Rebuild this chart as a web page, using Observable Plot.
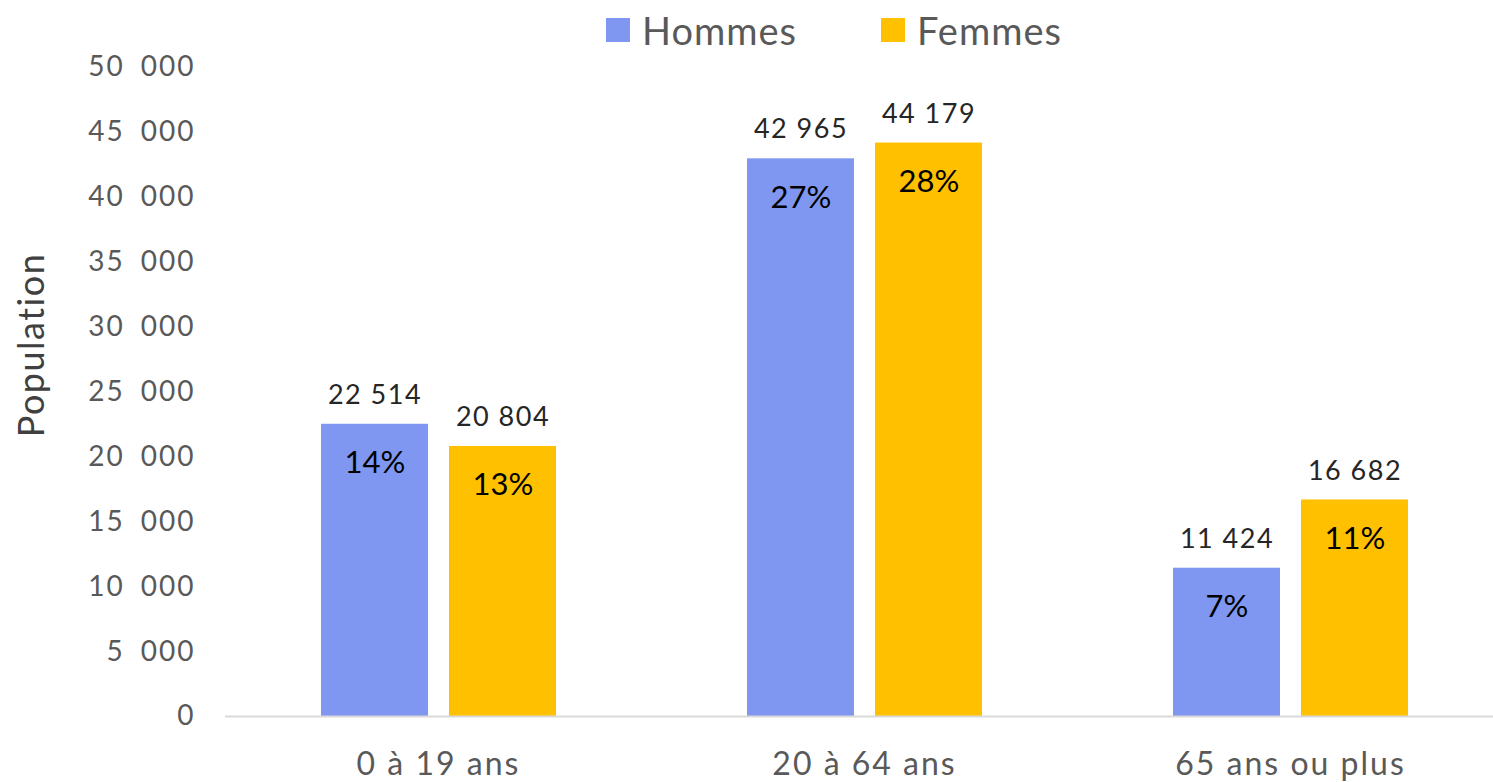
<!DOCTYPE html>
<html><head><meta charset="utf-8">
<script src="https://cdn.jsdelivr.net/npm/d3@7"></script>
<script src="https://cdn.jsdelivr.net/npm/@observablehq/plot@0.6"></script>
<style>
html,body{margin:0;padding:0;background:#fff;overflow:hidden;}
#wrap{position:relative;width:1493px;height:782px;overflow:hidden;font-family:Lato,"Open Sans",sans-serif;}
#legend{position:absolute;top:8px;left:606px;height:44px;display:flex;align-items:center;font-size:38px;color:#595959;letter-spacing:1px;}
#legend span.item{display:flex;align-items:center;}
#legend span.item + span.item{margin-left:84px;}
#legend span.sw{display:inline-block;width:24px;height:24px;margin-right:12px;}
#chart{position:absolute;top:0;left:0;}
#chart svg{max-width:none !important;}
#chart .ytick text{letter-spacing:2px;}
#chart .fxtick text{letter-spacing:2px;}
#chart .vlab text{letter-spacing:1.5px;}
#chart .ylab text{letter-spacing:1.5px;}
</style></head>
<body><div id="wrap"><div id="chart"></div><div id="legend"></div></div>
<script>
const categories = ["0 à 19 ans", "20 à 64 ans", "65 ans ou plus"];
const series = ["Hommes", "Femmes"];
const hommes = [22514, 42965, 11424];
const femmes = [20804, 44179, 16682];
const pctHommes = [14, 27, 7];
const pctFemmes = [13, 28, 11];
const yTicks = [0, 5000, 10000, 15000, 20000, 25000, 30000, 35000, 40000, 45000, 50000];
const colors = ["#7F97F0", "#FFC000"];

const data = [];
categories.forEach((c, i) => {
  data.push({cat: c, sex: "Hommes", value: hommes[i], pct: pctHommes[i]});
  data.push({cat: c, sex: "Femmes", value: femmes[i], pct: pctFemmes[i]});
});

const fmtVal = v => d3.format(",")(v).replace(/,/g, "\u00a0");
const fmtTick = v => d3.format(",")(v).replace(/,/g, "\u2002");

const chart = Plot.plot({
  width: 1503,
  height: 782,
  marginLeft: 225,
  marginRight: 0,
  marginTop: 67,
  marginBottom: 66,
  style: {fontFamily: "Lato, 'Open Sans', sans-serif", background: "transparent", maxWidth: "none"},
  fx: {domain: categories, padding: 0},
  x: {domain: series, paddingInner: 21/128, paddingOuter: 0.746, axis: null},
  y: {domain: [0, 50000]},
  color: {domain: series, range: colors},
  marks: [
    Plot.barY(data, {fx: "cat", x: "sex", y: "value", fill: "sex"}),
    Plot.ruleY([0], {stroke: "#d9d9d9", strokeWidth: 2}),
    Plot.text(data, {fx: "cat", x: "sex", y: "value", text: d => fmtVal(d.value), dy: -29, fontSize: 27, fill: "#262626", lineAnchor: "middle", className: "vlab"}),
    Plot.text(data, {fx: "cat", x: "sex", y: "value", text: d => d.pct + "%", dy: 39, fontSize: 31, fill: "#000", lineAnchor: "middle"}),
    Plot.axisY({ticks: yTicks, tickFormat: fmtTick, tickSize: 0, tickPadding: 30, fontSize: 28, color: "#595959", label: null, className: "ytick"}),
    Plot.axisFx({tickSize: 0, tickPadding: 36, fontSize: 32, color: "#595959", label: null, anchor: "bottom", className: "fxtick"}),
    Plot.text([{cat: categories[0]}], {fx: "cat", frameAnchor: "left", text: () => "Population", rotate: -90, dx: -193, dy: -47, fontSize: 36, fill: "#404040", textAnchor: "middle", lineAnchor: "middle", className: "ylab"})
  ]
});
document.getElementById("chart").appendChild(chart);

const legend = document.getElementById("legend");
series.forEach((s, i) => {
  const item = document.createElement("span");
  item.className = "item";
  const sw = document.createElement("span");
  sw.className = "sw";
  sw.style.background = colors[i];
  item.appendChild(sw);
  item.appendChild(document.createTextNode(s));
  legend.appendChild(item);
});
</script></body></html>
